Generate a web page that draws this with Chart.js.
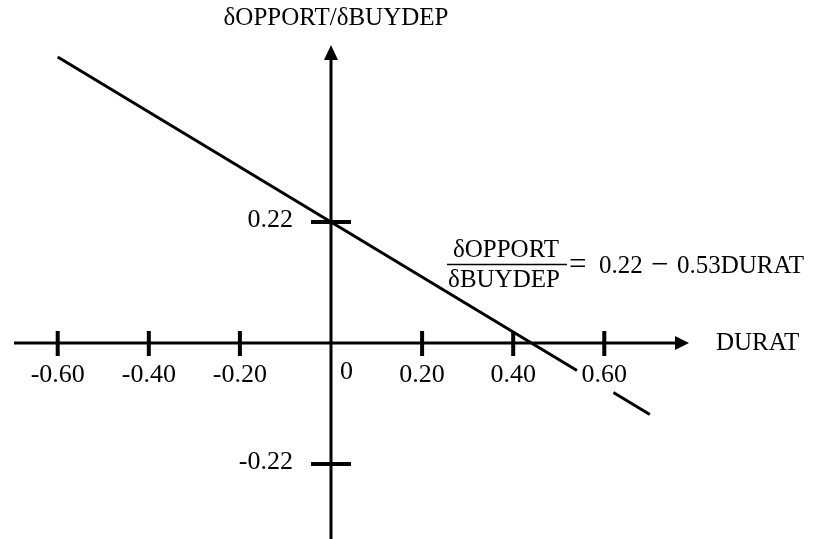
<!DOCTYPE html>
<html>
<head>
<meta charset="utf-8">
<script src="https://cdn.jsdelivr.net/npm/chart.js@4.4.1/dist/chart.umd.min.js"></script>
<style>
  html, body { margin: 0; padding: 0; background: #fff; }
  #wrap { width: 813px; height: 539px; position: relative; }
</style>
</head>
<body>
<div id="wrap"><canvas id="slopeChart"></canvas></div>
<script>
// values
let durat = [-0.60, 0, 0.54, 0.58, 0.62, 0.70]; // DURAT
let slope = [0.52, 0.22, -0.05, null, -0.09, -0.13]; // dOPPORT/dBUYDEP (gap round the 0.60 label)

let xTicks = [-0.60, -0.40, -0.20, 0.20, 0.40, 0.60];
let xTickLabels = ['-0.60', '-0.40', '-0.20', '0.20', '0.40', '0.60'];
let yTicks = [0.22, -0.22];
let yTickLabels = ['0.22', '-0.22'];

let xTitle = 'DURAT';
let yTitle = 'δOPPORT/δBUYDEP';
let eqTop = 'δOPPORT';
let eqBottom = 'δBUYDEP';
let eqRight = ['=', '0.22', '−', '0.53DURAT'];

let FONT = '"Liberation Serif", "Times New Roman", serif';

// draws the crossing axes, arrows, ticks and all text
let axesPlugin = {
  id: 'crossAxes',
  beforeDatasetsDraw(chart) {
    let c = chart.ctx;
    let xs = chart.scales.x;
    let ys = chart.scales.y;
    let ox = xs.getPixelForValue(0);
    let oy = ys.getPixelForValue(0);
    let xStart = xs.getPixelForValue(-0.696);
    let xTip = xs.getPixelForValue(0.786);
    let yTip = ys.getPixelForValue(0.542);
    let yBottom = ys.getPixelForValue(ys.min);

    c.save();
    c.strokeStyle = '#000';
    c.fillStyle = '#000';

    // axis lines
    c.lineWidth = 3;
    c.beginPath();
    c.moveTo(xStart, oy);
    c.lineTo(xTip - 12, oy);
    c.moveTo(ox, yBottom);
    c.lineTo(ox, yTip + 12);
    c.stroke();

    // arrow heads
    c.beginPath();
    c.moveTo(xTip, oy);
    c.lineTo(xTip - 14, oy - 7);
    c.lineTo(xTip - 14, oy + 7);
    c.closePath();
    c.fill();
    c.beginPath();
    c.moveTo(ox, yTip);
    c.lineTo(ox - 7, yTip + 15);
    c.lineTo(ox + 7, yTip + 15);
    c.closePath();
    c.fill();

    // tick marks
    c.lineWidth = 4;
    c.beginPath();
    xTicks.forEach(v => {
      let px = xs.getPixelForValue(v);
      c.moveTo(px, oy - 12);
      c.lineTo(px, oy + 13);
    });
    yTicks.forEach(v => {
      let py = ys.getPixelForValue(v);
      c.moveTo(ox - 20, py);
      c.lineTo(ox + 20, py);
    });
    c.stroke();

    // tick labels
    c.font = '26px ' + FONT;
    c.textBaseline = 'middle';
    c.textAlign = 'center';
    xTicks.forEach((v, i) => {
      c.fillText(xTickLabels[i], xs.getPixelForValue(v), oy + 32);
    });
    c.textAlign = 'left';
    c.fillText('0', ox + 9, oy + 29);
    c.textAlign = 'right';
    yTicks.forEach((v, i) => {
      c.fillText(yTickLabels[i], ox - 38, ys.getPixelForValue(v) - 2);
    });

    // axis titles
    c.font = '25px ' + FONT;
    c.textAlign = 'left';
    c.fillText(xTitle, xTip + 27, oy);
    c.textAlign = 'center';
    c.fillText(yTitle, ox + 5, 18);

    // equation label
    c.fillText(eqTop, 506, 250);
    c.fillText(eqBottom, 504, 280);
    c.lineWidth = 1.5;
    c.beginPath();
    c.moveTo(447, 264.5);
    c.lineTo(567, 264.5);
    c.stroke();
    c.textAlign = 'left';
    let eqX = [569, 599, 651, 677];
    let eqSize = ['31px ', '25px ', '31px ', '25px '];
    eqRight.forEach((t, i) => {
      c.font = eqSize[i] + FONT;
      c.fillText(t, eqX[i], 266);
    });

    c.restore();
  }
};

let ctx = document.getElementById('slopeChart').getContext('2d');

let slopeChart = new Chart(ctx, {
  type: 'scatter',
  data: {
    datasets: [
      {
        label: 'dOPPORT/dBUYDEP',
        data: durat.map((x, i) => ({ x: x, y: slope[i] })),
        showLine: true,
        borderColor: '#000',
        borderWidth: 3,
        pointRadius: 0,
        spanGaps: false,
        fill: false
      }
    ]
  },
  options: {
    responsive: true,
    maintainAspectRatio: false,
    animation: false,
    layout: { padding: 0 },
    plugins: {
      legend: { display: false },
      tooltip: { enabled: false }
    },
    scales: {
      x: { type: 'linear', min: -0.7267, max: 1.0582, display: false },
      y: { type: 'linear', min: -0.3564, max: 0.6236, display: false }
    }
  },
  plugins: [axesPlugin]
});
</script>
</body>
</html>
